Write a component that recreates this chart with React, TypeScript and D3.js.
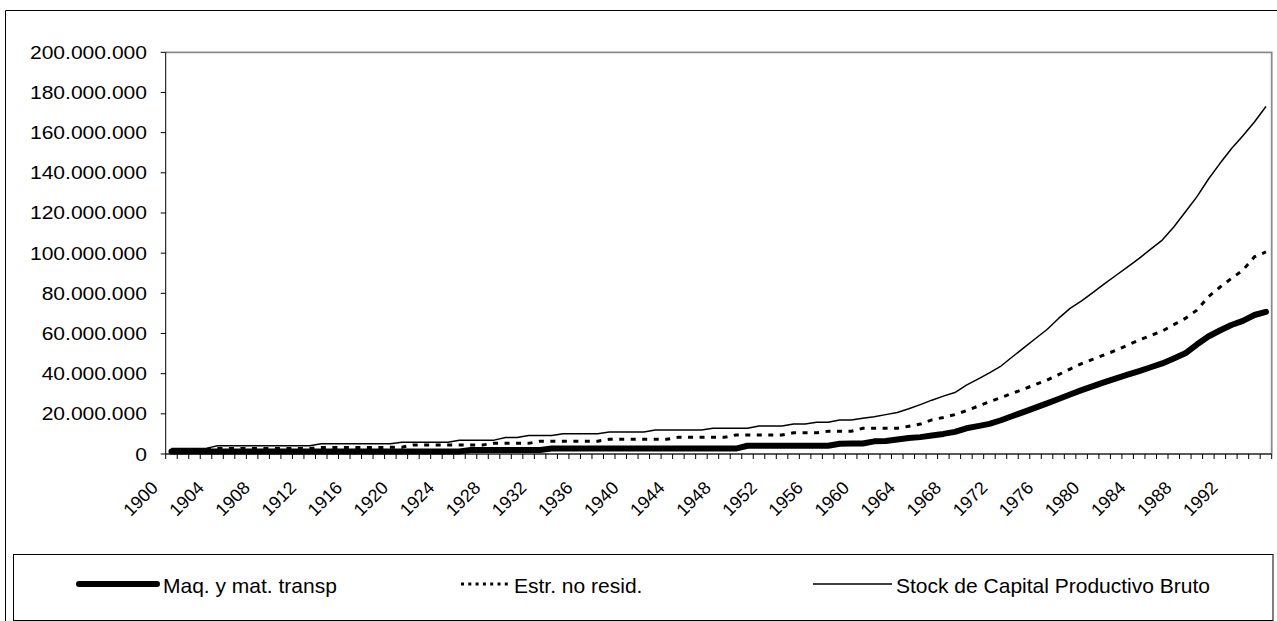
import React from "react";
import * as d3 from "d3";

// Categories: years 1900..1995
const years: number[] = d3.range(1900, 1996);

// X tick labels (every 4 years)
const xLabels: number[] = [1900, 1904, 1908, 1912, 1916, 1920, 1924, 1928, 1932, 1936, 1940, 1944, 1948, 1952, 1956, 1960, 1964, 1968, 1972, 1976, 1980, 1984, 1988, 1992];

// Y ticks
const yTicks: number[] = [0, 20e6, 40e6, 60e6, 80e6, 100e6, 120e6, 140e6, 160e6, 180e6, 200e6];

// Series values in millions
const maqMill: number[] = [
  // 1900-1925
  1.3, 1.3, 1.3, 1.3, 1.3, 1.3, 1.3, 1.3, 1.3, 1.3,
  1.3, 1.3, 1.3, 1.3, 1.3, 1.3, 1.3, 1.3, 1.3, 1.3,
  1.3, 1.3, 1.3, 1.3, 1.3, 1.3,
  // 1926-1932
  2.0, 2.0, 2.0, 2.0, 2.0, 2.0, 2.0,
  // 1933-1949
  2.7, 2.7, 2.7, 2.7, 2.7, 2.7, 2.7, 2.7, 2.7, 2.7, 2.7, 2.7, 2.7, 2.7, 2.7, 2.7, 2.7,
  // 1950-1957
  4.1, 4.1, 4.1, 4.1, 4.1, 4.1, 4.1, 4.1,
  // 1958-1995
  5.1, 5.2, 5.2, 6.3, 6.5, 7.2, 8.0, 8.4, 9.2, 10.0,
  11.0, 12.8, 13.9, 15.0, 16.8, 18.9, 21.0, 23.1, 25.2, 27.4,
  29.6, 31.8, 33.8, 35.8, 37.7, 39.5, 41.3, 43.2, 45.1, 47.6,
  50.1, 54.5, 58.5, 61.5, 64.2, 66.3, 69.2, 70.8,
];

const estrMill: number[] = [
  // 1900-1903
  2.3, 2.3, 2.3, 2.3,
  // 1904-1912
  2.8, 2.8, 2.8, 2.8, 2.8, 2.8, 2.8, 2.8, 2.8,
  // 1913-1918
  3.2, 3.2, 3.2, 3.2, 3.2, 3.2,
  // 1919-1920
  3.4, 3.4,
  // 1921-1927
  4.5, 4.5, 4.5, 4.5, 4.5, 4.5, 4.5,
  // 1928-1931
  5.3, 5.3, 5.3, 5.3,
  // 1932-1937
  6.4, 6.4, 6.4, 6.4, 6.4, 6.4,
  // 1938-1943
  7.3, 7.3, 7.3, 7.3, 7.3, 7.3,
  // 1944-1948
  8.3, 8.3, 8.3, 8.3, 8.3,
  // 1949-1953
  9.5, 9.5, 9.5, 9.5, 9.5,
  // 1954-1956
  10.6, 10.6, 10.6,
  // 1957-1959
  11.3, 11.3, 11.3,
  // 1960-1963
  12.8, 12.8, 12.8, 12.8,
  // 1964-1995
  13.8, 14.9, 17.0, 18.2, 19.6, 21.6, 23.8, 26.0, 28.1, 30.2,
  32.4, 34.6, 36.8, 39.5, 42.3, 45.0, 47.2, 49.4, 51.7, 54.2,
  56.7, 59.0, 61.2, 64.4, 67.5, 71.6, 78.3, 83.0, 87.4, 91.5,
  98.2, 100.6,
];

const stockMill: number[] = [
  // 1900-1903
  2.8, 2.8, 2.8, 2.8,
  // 1904-1912
  4.1, 4.1, 4.1, 4.1, 4.1, 4.1, 4.1, 4.1, 4.1,
  // 1913-1919
  5.1, 5.1, 5.1, 5.1, 5.1, 5.1, 5.1,
  // 1920-1924
  5.9, 5.9, 5.9, 5.9, 5.9,
  // 1925-1928
  6.9, 6.9, 6.9, 6.9,
  // 1929-1930
  8.2, 8.2,
  // 1931-1933
  9.2, 9.2, 9.2,
  // 1934-1937
  10.1, 10.1, 10.1, 10.1,
  // 1938-1941
  10.9, 10.9, 10.9, 10.9,
  // 1942-1946
  11.9, 11.9, 11.9, 11.9, 11.9,
  // 1947-1950
  12.8, 12.8, 12.8, 12.8,
  // 1951-1953
  13.9, 13.9, 13.9,
  // 1954-1955
  14.9, 14.9,
  // 1956-1957
  15.8, 15.8,
  // 1958-1959
  16.9, 16.9,
  // 1960-1995
  17.8, 18.6, 19.6, 20.7, 22.5, 24.6, 26.8, 28.8, 30.6, 34.3,
  37.3, 40.4, 43.8, 48.4, 53.0, 57.5, 62.0, 67.5, 72.5, 76.2,
  80.5, 84.8, 89.0, 93.2, 97.4, 102.0, 106.5, 113.0, 120.5, 128.0,
  136.8, 144.6, 152.0, 158.5, 165.3, 173.0,
];

const seriesNames: string[] = ["Maq. y mat. transp", "Estr. no resid.", "Stock de Capital Productivo Bruto"];

const W = 1277;
const H = 621;
const plotLeft = 165.7;
const plotRight = 1271.7;
const plotTop = 52.3;
const plotBottom = 454;
const FONT = "'Liberation Sans', Arial, Helvetica, sans-serif";

const locale = d3.formatLocale({ decimal: ",", thousands: ".", grouping: [3], currency: ["", ""] });
const fmt = locale.format(",");

export default function App() {
  const x = d3.scaleBand<number>().domain(years).range([plotLeft, plotRight]).paddingInner(0).paddingOuter(0);
  const bw = x.bandwidth();
  const cx = (yr: number) => (x(yr) as number) + bw / 2;
  const y = d3.scaleLinear().domain([0, 200e6]).range([plotBottom, plotTop]);

  const toPts = (arr: number[]) => arr.map((v, i) => ({ yr: years[i], v: v * 1e6 }));
  const line = d3
    .line<{ yr: number; v: number }>()
    .x((d) => cx(d.yr))
    .y((d) => y(d.v));

  const maq = toPts(maqMill);
  const estr = toPts(estrMill);
  const stock = toPts(stockMill);

  const boundaries = d3.range(0, years.length + 1).map((i) => plotLeft + i * bw);

  return (
    <svg
      width={W}
      height={H}
      style={{ position: "fixed", left: 0, top: 0, background: "#fff" }}
      fontFamily={FONT}
    >
      <rect x={0} y={0} width={W} height={H} fill="#fff" />
      {/* outer chart border */}
      <path d={`M5.5,${H + 5} L5.5,10.5 L${W + 5},10.5`} fill="none" stroke="#000" strokeWidth={1} />

      {/* plot area border */}
      <path
        d={`M${plotLeft},${plotTop} L${plotRight},${plotTop} L${plotRight},${plotBottom}`}
        fill="none"
        stroke="#8a8a8a"
        strokeWidth={1.8}
      />

      {/* y axis */}
      <line x1={plotLeft} x2={plotLeft} y1={plotTop} y2={plotBottom} stroke="#000" strokeWidth={1} />
      {yTicks.map((t) => (
        <g key={t}>
          <line x1={plotLeft - 5} x2={plotLeft} y1={y(t)} y2={y(t)} stroke="#000" strokeWidth={1} />
          <text
            transform={`translate(147,${y(t) + 6.5}) scale(1.17,1)`}
            textAnchor="end"
            fontSize={18}
            fill="#000"
          >
            {fmt(t)}
          </text>
        </g>
      ))}

      {/* x axis */}
      <line x1={plotLeft} x2={plotRight} y1={plotBottom} y2={plotBottom} stroke="#222" strokeWidth={1.5} />
      {boundaries.map((bx, i) => (
        <line key={i} x1={bx} x2={bx} y1={plotBottom} y2={plotBottom + 5} stroke="#000" strokeWidth={1} />
      ))}
      {xLabels.map((yr) => (
        <text
          key={yr}
          transform={`translate(${cx(yr) - 12.5},489) rotate(-45)`}
          textAnchor="end"
          fontSize={18}
          fill="#000"
        >
          {yr}
        </text>
      ))}

      {/* series */}
      <path d={line(maq) || ""} fill="none" stroke="#000" strokeWidth={6} strokeLinejoin="round" strokeLinecap="round" />
      <path d={line(estr) || ""} fill="none" stroke="#000" strokeWidth={3} strokeDasharray="5 6.5" />
      <path d={line(stock) || ""} fill="none" stroke="#000" strokeWidth={1.5} strokeLinejoin="round" />

      {/* legend */}
      <rect x={13.5} y={554.5} width={1259.5} height={66} fill="#fff" stroke="#000" strokeWidth={1} />
      <line x1={79} x2={157} y1={584} y2={584} stroke="#000" strokeWidth={6} strokeLinecap="round" />
      <text x={163} y={592.5} fontSize={21} fill="#000">{seriesNames[0]}</text>
      <line x1={461} x2={512} y1={584} y2={584} stroke="#000" strokeWidth={3} strokeDasharray="3 4.3" />
      <text x={514} y={592.5} fontSize={21} fill="#000">{seriesNames[1]}</text>
      <line x1={813} x2={892} y1={584} y2={584} stroke="#000" strokeWidth={1.5} />
      <text x={896} y={592.5} fontSize={21} fill="#000">{seriesNames[2]}</text>
    </svg>
  );
}
